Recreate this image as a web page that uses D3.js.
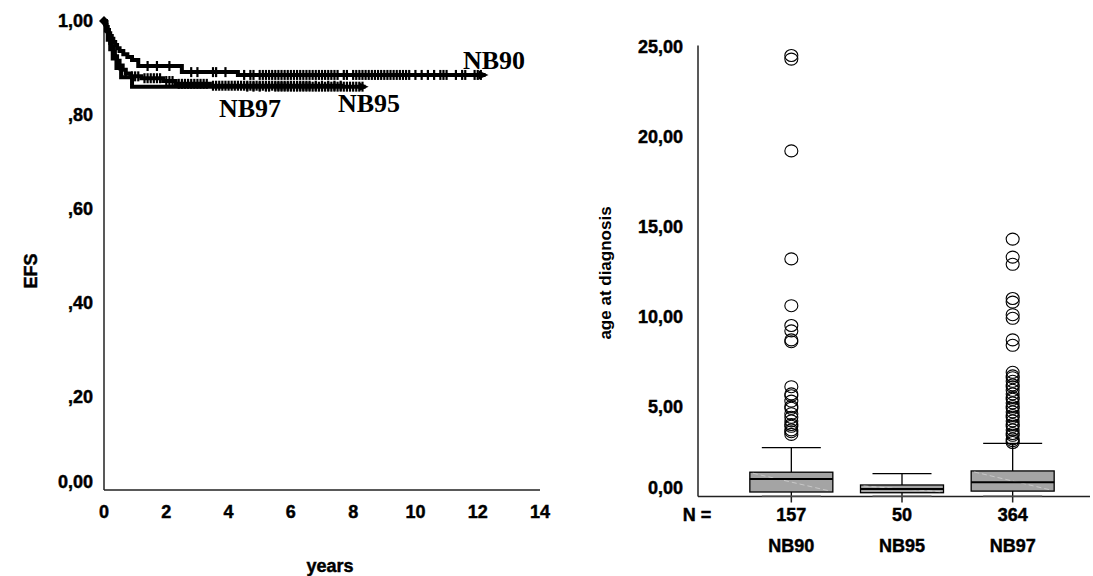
<!DOCTYPE html>
<html><head><meta charset="utf-8">
<script src="https://cdn.jsdelivr.net/npm/d3@7"></script>
<style>
body{margin:0;background:#fff;}
svg text{font-family:"Liberation Sans",Arial,sans-serif;font-weight:bold;fill:#000;}
svg text.h{stroke:#000;stroke-width:0.45px;}
</style></head>
<body><svg id="c" width="1093" height="576"></svg>
<script>
// ---------- DATA ----------
// Kaplan-Meier steps: [time in years, EFS]
const nb90Steps = [[0,1],[0.03,0.994],[0.08,0.987],[0.12,0.981],[0.16,0.974],[0.2,0.968],[0.25,0.962],[0.3,0.955],[0.36,0.949],[0.42,0.942],[0.5,0.936],[0.62,0.929],[0.75,0.923],[0.9,0.917],[1.1,0.904],[2.5,0.891],[4.3,0.885],[12.25,0.885]];
const nb95Steps = [[0,1],[0.06,0.98],[0.12,0.96],[0.2,0.94],[0.28,0.92],[0.4,0.90],[0.55,0.88],[0.9,0.86],[8.4,0.86]];
const nb97Steps = [[0,1],[0.02,0.997],[0.05,0.992],[0.08,0.986],[0.1,0.978],[0.13,0.97],[0.17,0.962],[0.2,0.953],[0.25,0.945],[0.3,0.934],[0.35,0.925],[0.42,0.915],[0.5,0.905],[0.6,0.896],[0.7,0.888],[0.85,0.882],[1.2,0.878],[1.9,0.872],[2.3,0.866],[3.4,0.862],[7.7,0.862]];
// censored observations (years)
const nb90Censor = [1.4,1.7,2.1,2.8,3.0,3.5,3.6,3.9,4.5,4.7,4.8,5.0,5.1,5.2,5.3,5.4,5.5,5.6,5.7,5.8,5.9,6.0,6.1,6.2,6.3,6.4,6.5,6.6,6.7,6.8,6.9,7.0,7.1,7.2,7.3,7.4,7.5,7.7,7.8,8.0,8.1,8.2,8.3,8.4,8.5,8.6,8.7,8.8,8.9,9.0,9.1,9.2,9.3,9.4,9.5,9.6,9.7,9.8,10.0,10.2,10.4,10.6,10.8,10.9,11.0,11.3,11.5,11.6,11.9,12.0,12.1];
const nb95Censor = [4.6,4.8,5.0,5.2,5.3,5.5,5.6,5.7,5.8,5.9,6.0,6.1,6.2,6.3,6.4,6.5,6.6,6.7,6.8,6.9,7.0,7.1,7.2,7.3,7.4,7.5,7.6,7.7,7.8,7.9,8.0,8.1,8.2,8.3];
const nb97Censor = [0.5,0.7,0.9,1.0,1.1,1.3,1.4,1.5,1.6,1.7,1.8,2.0,2.1,2.2,2.4,2.5,2.6,2.7,2.8,2.9,3.0,3.1,3.2,3.3,3.5,3.6,3.7,3.8,3.9,4.0,4.1,4.2,4.3,4.4,4.5,4.6,4.7,4.8,4.9,5.0,5.1,5.2,5.3,5.4,5.5,5.6,5.7,5.8,5.9,6.0,6.1,6.2,6.3,6.4,6.5,6.6,6.8,7.0,7.2,7.4,7.6];
const kmTicksX = [0,2,4,6,8,10,12,14];
const kmTicksY = [0,0.2,0.4,0.6,0.8,1.0];
const kmTickLabelsY = ["0,00",",20",",40",",60",",80","1,00"];

// Box plot: age at diagnosis
const groups = ["NB90","NB95","NB97"];
const counts = [157,50,364];
const whiskLo = [0.02,0.02,0.02];
const q1 = [0.25,0.21,0.3];
const medians = [0.97,0.42,0.79];
const q3 = [1.35,0.64,1.42];
const whiskHi = [2.71,1.27,2.95];
const nb90Out = [24.5,24.3,19.2,13.2,10.6,9.5,9.2,8.7,8.6,6.1,5.7,5.6,5.3,5.0,4.9,4.6,4.4,4.2,4.0,3.9,3.7,3.6,3.45];
const nb95Out = [];
const nb97Out = [14.3,13.3,12.9,11.0,10.8,10.1,9.9,8.7,8.4,6.9,6.7,6.6,6.4,6.2,6.1,5.9,5.7,5.5,5.4,5.2,5.0,4.9,4.7,4.5,4.4,4.2,4.0,3.9,3.7,3.5,3.4,3.2,3.1,3.0];
const boxTicksY = [0,5,10,15,20,25];
const boxTickLabelsY = ["0,00","5,00","10,00","15,00","20,00","25,00"];

// ---------- DRAW ----------
const svg = d3.select("#c");
const ax = "#222";
const FS = 18;

// ===== Left: Kaplan-Meier =====
const x = d3.scaleLinear().domain([0,14]).range([104,540]);
const y = d3.scaleLinear().domain([0,1]).range([490,21]);
const L = svg.append("g");
L.append("line").attr("x1",x(0)).attr("x2",x(0)).attr("y1",y(1)-3).attr("y2",y(0)).attr("stroke",ax).attr("stroke-width",1.5);
L.append("line").attr("x1",x(0)).attr("x2",x(14)).attr("y1",y(0)).attr("y2",y(0)).attr("stroke",ax).attr("stroke-width",1.5);
L.selectAll(".yt").data(kmTicksY).join("text").attr("class","h")
  .attr("x",93).attr("y",(d,i)=> y(d) + (d===0 ? -8 : 0)).attr("dy","0.36em")
  .attr("text-anchor","end").attr("font-size",FS).text((d,i)=>kmTickLabelsY[i]);
L.selectAll(".xt").data(kmTicksX).join("text").attr("class","h")
  .attr("x",d=>x(d)).attr("y",512).attr("dy","0.36em")
  .attr("text-anchor","middle").attr("font-size",FS).text(d=>d);
L.append("text").attr("class","h").attr("x",330).attr("y",566).attr("dy","0.36em").attr("text-anchor","middle").attr("font-size",FS).text("years");
L.append("text").attr("class","h").attr("transform","translate(31,271) rotate(-90)").attr("dy","0.36em").attr("text-anchor","middle").attr("font-size",FS).text("EFS");

const line = d3.line().x(d=>x(d[0])).y(d=>y(d[1])).curve(d3.curveStepAfter);
function survAt(steps,t){let s=steps[0][1];for(const p of steps){if(p[0]<=t)s=p[1];}return s;}
const series = [
  {steps:nb97Steps, cens:nb97Censor, arrow:false},
  {steps:nb95Steps, cens:nb95Censor, arrow:true},
  {steps:nb90Steps, cens:nb90Censor, arrow:true}
];
series.forEach(s=>{
  L.append("path").attr("d",line(s.steps)).attr("fill","none").attr("stroke","#000").attr("stroke-width",4);
  L.selectAll(null).data(s.cens).join("line")
    .attr("x1",d=>x(d)).attr("x2",d=>x(d))
    .attr("y1",d=>y(survAt(s.steps,d))-5).attr("y2",d=>y(survAt(s.steps,d))+5)
    .attr("stroke","#000").attr("stroke-width",2.2);
  if(s.arrow){
    const e = s.steps[s.steps.length-1];
    const ex = x(e[0]), ey = y(e[1]);
    L.append("path").attr("d",`M${ex-7},${ey-4.5}L${ex+3},${ey}L${ex-7},${ey+4.5}Z`).attr("fill","#000");
  }
});
// start marker
L.append("path").attr("d",`M${x(0)-5},${y(1)}L${x(0)},${y(1)-5}L${x(0)+5},${y(1)}L${x(0)},${y(1)+5}Z`).attr("fill","#000");

const serif = "'Liberation Serif','Times New Roman',serif";
L.append("text").attr("x",463).attr("y",69).attr("font-size",26).style("font-family",serif).text("NB90");
L.append("text").attr("x",338).attr("y",112).attr("font-size",26).style("font-family",serif).text("NB95");
L.append("text").attr("x",219).attr("y",117).attr("font-size",26).style("font-family",serif).text("NB97");

// ===== Right: Box plot =====
const bx = d3.scalePoint().domain(groups).range([736,1068]).padding(0.5);
const by = d3.scaleLinear().domain([0,25]).range([496.5,46.5]);
const R = svg.append("g");
R.append("line").attr("x1",698).attr("x2",698).attr("y1",by(25)-1).attr("y2",by(0)).attr("stroke",ax).attr("stroke-width",1.5);
R.append("line").attr("x1",698).attr("x2",1090).attr("y1",by(0)).attr("y2",by(0)).attr("stroke",ax).attr("stroke-width",1.5);
R.selectAll(".yt").data(boxTicksY).join("text").attr("class","h")
  .attr("x",683).attr("y",d=> by(d) + (d===0 ? -9 : 0)).attr("dy","0.36em")
  .attr("text-anchor","end").attr("font-size",FS).text((d,i)=>boxTickLabelsY[i]);
R.append("text").attr("transform","translate(605,273) rotate(-90)").attr("dy","0.36em").attr("text-anchor","middle").attr("font-size",17).text("age at diagnosis");
R.append("text").attr("class","h").attr("x",697).attr("y",515).attr("dy","0.36em").attr("text-anchor","middle").attr("font-size",FS).text("N =");
groups.forEach((g,i)=>{
  const cx = bx(g), bw = 83, cw = 59;
  R.append("line").attr("x1",cx).attr("x2",cx).attr("y1",by(0)).attr("y2",by(0)+6).attr("stroke",ax).attr("stroke-width",1.5);
  R.append("text").attr("class","h").attr("x",cx).attr("y",515).attr("dy","0.36em").attr("text-anchor","middle").attr("font-size",FS).text(counts[i]);
  R.append("text").attr("class","h").attr("x",cx).attr("y",546).attr("dy","0.36em").attr("text-anchor","middle").attr("font-size",FS).text(g);
  // whiskers
  R.append("line").attr("x1",cx).attr("x2",cx).attr("y1",by(whiskHi[i])).attr("y2",by(q3[i])).attr("stroke","#000").attr("stroke-width",1.3);
  R.append("line").attr("x1",cx).attr("x2",cx).attr("y1",by(q1[i])).attr("y2",by(whiskLo[i])).attr("stroke","#000").attr("stroke-width",1.3);
  R.append("line").attr("x1",cx-cw/2).attr("x2",cx+cw/2).attr("y1",by(whiskHi[i])).attr("y2",by(whiskHi[i])).attr("stroke","#000").attr("stroke-width",1.3);
  R.append("line").attr("x1",cx-cw/2).attr("x2",cx+cw/2).attr("y1",by(whiskLo[i])).attr("y2",by(whiskLo[i])).attr("stroke","#555").attr("stroke-width",1.3);
  // box
  R.append("rect").attr("x",cx-bw/2).attr("y",by(q3[i])).attr("width",bw).attr("height",by(q1[i])-by(q3[i]))
    .attr("fill","#a4a4a4").attr("stroke","#000").attr("stroke-width",1.3);
  R.append("line").attr("x1",cx-bw/2+3).attr("x2",cx+bw/2-3).attr("y1",by(q3[i])+1).attr("y2",by(q1[i])-1)
    .attr("stroke","#d0d0d0").attr("stroke-width",0.8).attr("stroke-dasharray","5,3");
  R.append("line").attr("x1",cx-bw/2).attr("x2",cx+bw/2).attr("y1",by(medians[i])).attr("y2",by(medians[i])).attr("stroke","#000").attr("stroke-width",2);
});
const outs = [nb90Out, nb95Out, nb97Out];
outs.forEach((arr,i)=>{
  R.selectAll(null).data(arr).join("ellipse")
    .attr("cx",bx(groups[i])).attr("cy",d=>by(d)).attr("rx",6.5).attr("ry",6)
    .attr("fill","none").attr("stroke","#000").attr("stroke-width",1.1);
});
</script></body></html>
